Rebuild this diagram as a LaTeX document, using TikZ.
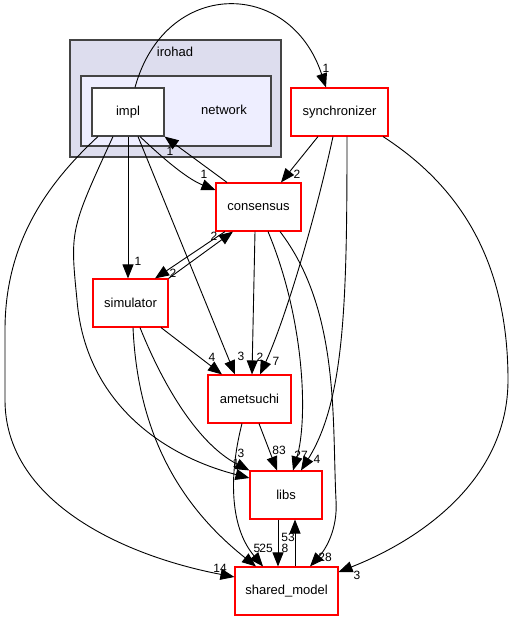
\documentclass[tikz,border=0pt]{standalone}
\usepackage{fontspec}
\setmainfont{Liberation Sans}
\usepackage{tikz}
\usetikzlibrary{arrows.meta}

\definecolor{clusterout}{HTML}{DDDDEE}
\definecolor{clusterin}{HTML}{EEEEFF}
\definecolor{clusterline}{HTML}{444444}

\begin{document}
\begin{tikzpicture}[
        x=1pt, y=-1pt,
        dep/.style={draw=black, line width=0.9pt, -{Triangle[length=14pt,width=11pt]}},
        dir/.style={draw=red, line width=1.1pt, fill=white, minimum height=48pt, inner sep=0pt, font=\fontsize{13}{15}\selectfont},
        dirsel/.style={dir, draw=clusterline},
        clusterbox/.style={draw=clusterline, line width=1.3pt, fill=#1},
        lbl/.style={inner sep=0pt, font=\fontsize{12}{14}\selectfont},
    ]
    \useasboundingbox (0,0) rectangle (515,621);
    % clusters
    \draw[clusterbox=clusterout] (70,40) rectangle (281,157);
    \node[lbl, font=\fontsize{13}{15}\selectfont] (irohad) at (175,52) {irohad};
    \draw[clusterbox=clusterin] (81,76) rectangle (271,146);
    \node[lbl, font=\fontsize{13}{15}\selectfont] (network) at (224,110) {network};
    % directories
    \node[dirsel, minimum width=72pt] (impl) at (128,112) {impl};
    \node[dir, minimum width=97pt] (synchronizer) at (339.5,112) {synchronizer};
    \node[dir, minimum width=85pt] (consensus) at (258.5,207) {consensus};
    \node[dir, minimum width=75pt] (simulator) at (130.5,303) {simulator};
    \node[dir, minimum width=83pt] (ametsuchi) at (249.5,399) {ametsuchi};
    \node[dir, minimum width=72pt] (libs) at (286,495) {libs};
    \node[dir, minimum width=103pt] (shared_model) at (286.5,591) {shared\_model};
    % impl
    \draw[dep] ([xshift=7pt]impl.north) .. controls (165,-22) and (290,-22) .. ([xshift=-13.5pt]synchronizer.north);
    \node[lbl] (l-impl-sync) at (326,68) {1};
    \draw[dep] ([xshift=12pt]impl.south) .. controls (170,165) and (190,180) .. ([yshift=17pt]consensus.west);
    \node[lbl] (l-impl-cons) at (204,174) {1};
    \draw[dep] (impl.south) -- (impl.south |- simulator.north);
    \node[lbl] (l-impl-sim) at (138,261) {1};
    \draw[dep] ([xshift=10pt]impl.south) -- ([xshift=-14.5pt]ametsuchi.north);
    \node[lbl] (l-impl-amet) at (241,356) {3};
    \draw[dep] ([xshift=-15pt]impl.south) .. controls (70,230) .. (77,300) .. controls (85,400) and (160,455) .. ([yshift=17pt]libs.west);
    \node[lbl] (l-impl-libs) at (236,463) {1};
    \draw[dep] ([xshift=-30pt]impl.south) .. controls (40,190) and (5,250) .. (5,330) -- (5,400) .. controls (5,500) and (120,555) .. ([yshift=14pt]shared_model.west);
    \node[lbl] (l-impl-shared) at (220,568) {14};
    % consensus
    \draw[dep] ([xshift=-31.5pt]consensus.north) -- (impl.south east);
    \node[lbl] (l-cons-impl) at (170,151) {1};
    \draw[dep] ([xshift=-33.5pt]consensus.south) -- ([xshift=24.5pt]simulator.north);
    \node[lbl] (l-cons-sim) at (173,273) {2};
    \draw[dep] ([xshift=-3.5pt]consensus.south) -- ([xshift=2.5pt]ametsuchi.north);
    \node[lbl] (l-cons-amet) at (260,357) {2};
    \draw[dep] ([xshift=9.5pt]consensus.south) .. controls (305,320) and (308,420) .. ([xshift=7pt]libs.north);
    \node[lbl] (l-cons-libs) at (301,455) {27};
    \draw[dep] ([xshift=21.5pt]consensus.south) .. controls (340,310) and (332,420) .. (336,500) .. controls (338,530) and (325,550) .. ([xshift=23.5pt]shared_model.north);
    \node[lbl] (l-cons-shared) at (325,557) {28};
    % simulator
    \draw[dep] (simulator.north east) -- ([xshift=-25.5pt]consensus.south);
    \node[lbl] (l-sim-cons) at (214,236) {2};
    \draw[dep] ([xshift=30.5pt]simulator.south) -- ([xshift=-27.5pt]ametsuchi.north);
    \node[lbl] (l-sim-amet) at (212,357) {4};
    \draw[dep] ([xshift=9.5pt]simulator.south) .. controls (165,390) and (200,445) .. (libs.north west);
    \node[lbl] (l-sim-libs) at (241,453) {3};
    \draw[dep] ([xshift=2.5pt]simulator.south) .. controls (138,440) and (185,510) .. ([xshift=-30.5pt]shared_model.north);
    \node[lbl] (l-sim-shared) at (257,548) {5};
    % synchronizer
    \draw[dep] ([xshift=-21.5pt]synchronizer.south) -- ([xshift=22.5pt]consensus.north);
    \node[lbl] (l-sync-cons) at (297,174) {2};
    \draw[dep] ([xshift=-6.5pt]synchronizer.south) .. controls (315,220) and (285,320) .. ([xshift=10.5pt]ametsuchi.north);
    \node[lbl] (l-sync-amet) at (276,361) {7};
    \draw[dep] ([xshift=7.5pt]synchronizer.south) .. controls (347,300) and (345,400) .. ([xshift=15pt]libs.north);
    \node[lbl] (l-sync-libs) at (317,459) {4};
    \draw[dep] ([xshift=43.5pt]synchronizer.south) .. controls (450,180) and (508,250) .. (508,380) .. controls (508,480) and (420,540) .. ([yshift=19pt]shared_model.east);
    \node[lbl] (l-sync-shared) at (357,575) {3};
    % ametsuchi
    \draw[dep] ([xshift=9.5pt]ametsuchi.south) -- ([xshift=-9pt]libs.north);
    \node[lbl] (l-amet-libs) at (279,450) {83};
    \draw[dep] ([xshift=-7.5pt]ametsuchi.south) .. controls (230,470) and (228,525) .. ([xshift=-23.5pt]shared_model.north);
    \node[lbl] (l-amet-shared) at (266,548) {25};
    % libs <-> shared_model
    \draw[dep] ([xshift=-8pt]libs.south) -- ([xshift=-8.5pt]shared_model.north);
    \node[lbl] (l-libs-shared) at (285,548) {8};
    \draw[dep] ([xshift=8.5pt]shared_model.north) -- ([xshift=9pt]libs.south);
    \node[lbl] (l-shared-libs) at (288,537) {53};
\end{tikzpicture}
\end{document}
